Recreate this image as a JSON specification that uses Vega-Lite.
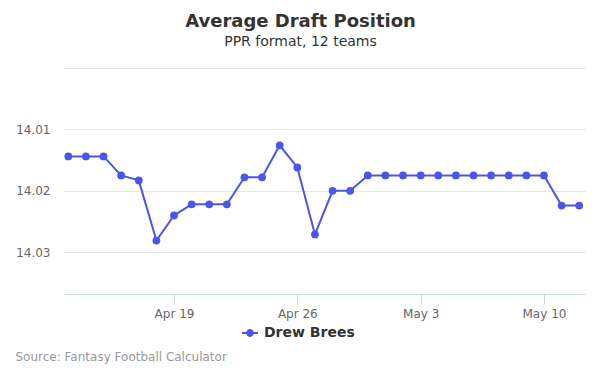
{
  "$schema": "https://vega.github.io/schema/vega-lite/v6.json",
  "width": 521,
  "height": 226,
  "autosize": {"type": "none"},
  "padding": {"left": 64, "top": 68, "right": 15, "bottom": 81},
  "background": "#ffffff",
  "config": {
    "font": "DejaVu Sans",
    "view": {"stroke": null}
  },
  "title": {
    "text": "Average Draft Position",
    "subtitle": "PPR format, 12 teams",
    "anchor": "middle",
    "frame": "group",
    "dx": -24,
    "offset": 19,
    "fontSize": 18,
    "fontWeight": "bold",
    "color": "#333333",
    "subtitleFontSize": 14,
    "subtitleColor": "#333333",
    "subtitlePadding": 4
  },
  "data": {
    "values": [
      {"date": "2020-04-13", "adp": 14.0144, "player": "Drew Brees"},
      {"date": "2020-04-14", "adp": 14.0144, "player": "Drew Brees"},
      {"date": "2020-04-15", "adp": 14.0144, "player": "Drew Brees"},
      {"date": "2020-04-16", "adp": 14.0175, "player": "Drew Brees"},
      {"date": "2020-04-17", "adp": 14.0183, "player": "Drew Brees"},
      {"date": "2020-04-18", "adp": 14.0281, "player": "Drew Brees"},
      {"date": "2020-04-19", "adp": 14.0240, "player": "Drew Brees"},
      {"date": "2020-04-20", "adp": 14.0222, "player": "Drew Brees"},
      {"date": "2020-04-21", "adp": 14.0222, "player": "Drew Brees"},
      {"date": "2020-04-22", "adp": 14.0222, "player": "Drew Brees"},
      {"date": "2020-04-23", "adp": 14.0178, "player": "Drew Brees"},
      {"date": "2020-04-24", "adp": 14.0178, "player": "Drew Brees"},
      {"date": "2020-04-25", "adp": 14.0126, "player": "Drew Brees"},
      {"date": "2020-04-26", "adp": 14.0162, "player": "Drew Brees"},
      {"date": "2020-04-27", "adp": 14.0271, "player": "Drew Brees"},
      {"date": "2020-04-28", "adp": 14.0200, "player": "Drew Brees"},
      {"date": "2020-04-29", "adp": 14.0200, "player": "Drew Brees"},
      {"date": "2020-04-30", "adp": 14.0175, "player": "Drew Brees"},
      {"date": "2020-05-01", "adp": 14.0175, "player": "Drew Brees"},
      {"date": "2020-05-02", "adp": 14.0175, "player": "Drew Brees"},
      {"date": "2020-05-03", "adp": 14.0175, "player": "Drew Brees"},
      {"date": "2020-05-04", "adp": 14.0175, "player": "Drew Brees"},
      {"date": "2020-05-05", "adp": 14.0175, "player": "Drew Brees"},
      {"date": "2020-05-06", "adp": 14.0175, "player": "Drew Brees"},
      {"date": "2020-05-07", "adp": 14.0175, "player": "Drew Brees"},
      {"date": "2020-05-08", "adp": 14.0175, "player": "Drew Brees"},
      {"date": "2020-05-09", "adp": 14.0175, "player": "Drew Brees"},
      {"date": "2020-05-10", "adp": 14.0175, "player": "Drew Brees"},
      {"date": "2020-05-11", "adp": 14.0224, "player": "Drew Brees"},
      {"date": "2020-05-12", "adp": 14.0224, "player": "Drew Brees"}
    ]
  },
  "encoding": {
    "x": {
      "field": "date",
      "type": "temporal",
      "scale": {
        "type": "utc",
        "domain": [
          {"year": 2020, "month": 4, "date": 12, "hours": 18, "minutes": 8, "utc": true},
          {"year": 2020, "month": 5, "date": 12, "hours": 7, "minutes": 54, "utc": true}
        ]
      },
      "axis": {
        "values": [
          {"year": 2020, "month": 4, "date": 19, "utc": true},
          {"year": 2020, "month": 4, "date": 26, "utc": true},
          {"year": 2020, "month": 5, "date": 3, "utc": true},
          {"year": 2020, "month": 5, "date": 10, "utc": true}
        ],
        "format": "%b %-d",
        "grid": false,
        "domainColor": "#ccd6eb",
        "domainWidth": 1,
        "tickColor": "#ccd6eb",
        "tickSize": 10,
        "labelColor": "#666666",
        "labelFontSize": 12,
        "labelPadding": 4,
        "title": "Source: Fantasy Football Calculator",
        "titleFontSize": 12,
        "titleFontWeight": "normal",
        "titleColor": "#999999",
        "titleAnchor": "start",
        "titleAlign": "left",
        "titleBaseline": "middle",
        "titleX": -49,
        "titleY": 62
      }
    },
    "y": {
      "field": "adp",
      "type": "quantitative",
      "scale": {"domain": [14.0, 14.0368], "reverse": true, "zero": false, "nice": false},
      "axis": {
        "values": [14.0, 14.01, 14.02, 14.03],
        "labelExpr": "datum.value < 14.005 ? '' : format(datum.value, '.2f')",
        "title": null,
        "domain": false,
        "ticks": false,
        "gridColor": "#e6e6e6",
        "gridWidth": 1,
        "labelColor": "#666666",
        "labelFontSize": 12,
        "labelPadding": 14
      }
    },
    "color": {
      "field": "player",
      "type": "nominal",
      "scale": {"range": ["#4a56e8"]},
      "legend": {
        "title": null,
        "orient": "none",
        "legendX": 178,
        "legendY": 257,
        "symbolType": "M -1 -0.12 L -0.45 -0.12 A 0.46 0.46 0 0 1 0.45 -0.12 L 1 -0.12 L 1 0.12 L 0.45 0.12 A 0.46 0.46 0 0 1 -0.45 0.12 L -1 0.12 Z",
        "symbolSize": 256,
        "symbolStrokeWidth": 0,
        "symbolFillColor": "#4a56e8",
        "labelFontSize": 14,
        "labelFontWeight": "bold",
        "labelColor": "#333333",
        "labelOffset": 6
      }
    }
  },
  "layer": [
    {
      "mark": {"type": "line", "strokeWidth": 2, "interpolate": "linear"}
    },
    {
      "mark": {"type": "point", "filled": true, "size": 60, "opacity": 1}
    }
  ]
}
